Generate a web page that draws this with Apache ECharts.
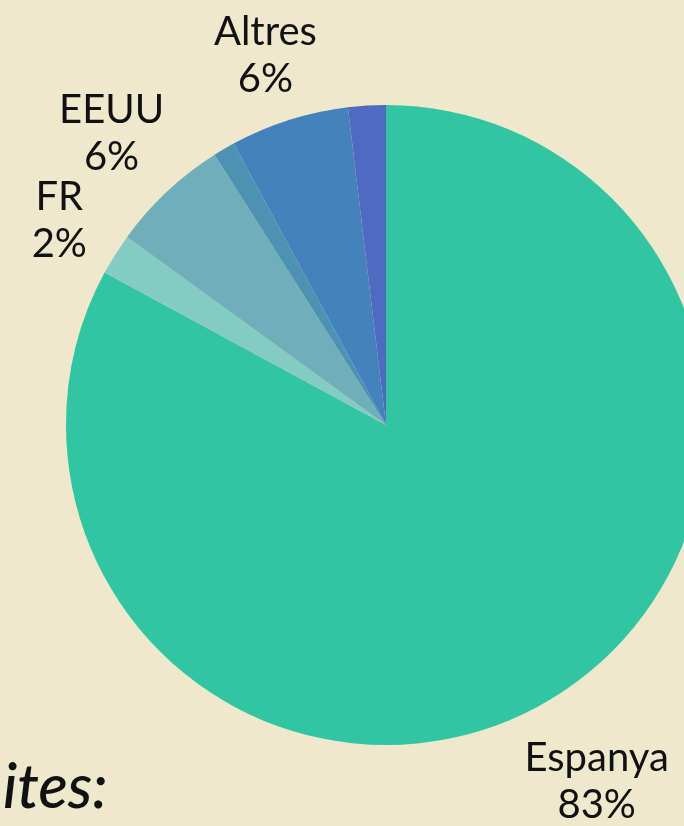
<!DOCTYPE html>
<html><head><meta charset="utf-8">
<script src="https://cdn.jsdelivr.net/npm/echarts@6/dist/echarts.min.js"></script>
<style>html,body{margin:0;padding:0;background:#EEE8CC;}#c{width:684px;height:826px;}</style>
</head><body><div id="c"></div>
<script>
const categories = ['Espanya', 'FR', 'EEUU', 'IT', 'Altres', 'DE'];
const values = [82.9, 2.1, 6.0, 1.1, 6.0, 1.9];
const shownLabels = ['Espanya', 'FR', 'EEUU', 'Altres'];
const labelPercents = ['83%', '2%', '6%', '', '6%', ''];
const colors = ['#32C5A2', '#84CBC3', '#70AFB9', '#4E92B3', '#4581BD', '#5069C1'];
const labelOffsets = [[7, 15], [10, 8], [-2, -1], [0, 0], [0, 10], [0, 0]];

const chart = echarts.init(document.getElementById('c'));
const pieData = categories.map((c, i) => ({ name: c, value: values[i], itemStyle: { color: colors[i] } }));
const labelData = categories.map((c, i) => ({
  name: c, value: values[i],
  label: { show: shownLabels.includes(c), formatter: c + '\n' + labelPercents[i], offset: labelOffsets[i] }
}));
chart.setOption({
  backgroundColor: '#EEE8CC',
  animation: false,
  graphic: [{
    type: 'text', left: 3, top: 758,
    style: { text: 'ites:', font: 'italic 500 61px Lato', fill: '#111' }
  }],
  series: [
    {
      type: 'pie', center: [386, 425], radius: [0, 320], startAngle: 90,
      clockwise: true, label: { show: false }, labelLine: { show: false },
      data: pieData, silent: true
    },
    {
      type: 'pie', center: [386, 425], radius: [320, 470], startAngle: 90,
      clockwise: true, silent: true, avoidLabelOverlap: false,
      minShowLabelAngle: 0,
      labelLayout: { hideOverlap: false },
      itemStyle: { color: 'rgba(0,0,0,0)' },
      label: { position: 'inside', rotate: 0, color: '#111', fontSize: 40, lineHeight: 47,
        fontFamily: 'Lato', align: 'center' },
      labelLine: { show: false },
      data: labelData
    }
  ]
});
</script></body></html>
